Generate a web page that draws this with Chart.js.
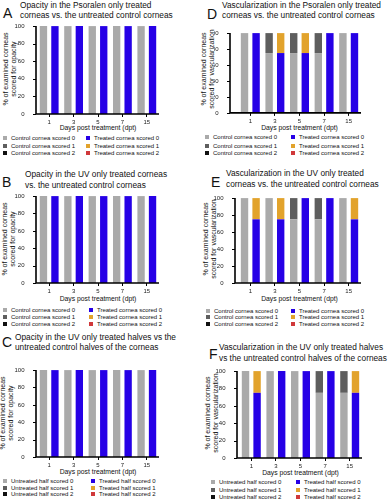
<!DOCTYPE html>
<html><head><meta charset="utf-8">
<script src="https://cdn.jsdelivr.net/npm/chart.js@4.4.1/dist/chart.umd.min.js"></script>
<style>
html,body{margin:0;padding:0;background:#fff;}
#fig{position:relative;width:388px;height:500px;overflow:hidden;font-family:"Liberation Sans",Arial,sans-serif;color:#111;}
.t{position:absolute;white-space:nowrap;}
canvas{position:absolute;}
.sq{position:absolute;width:4px;height:4px;}
</style></head><body><div id="fig"></div>
<script>
// ---- data ----
const days = ['1', '3', '5', '7', '15'];
const corneaLegend = ['Control cornea scored 0', 'Control cornea scored 1', 'Control cornea scored 2',
                      'Treated cornea scored 0', 'Treated cornea scored 1', 'Treated cornea scored 2'];
const halfLegend = ['Untreated half scored 0', 'Untreated half scored 1', 'Untreated half scored 2',
                    'Treated half scored 0', 'Treated half scored 1', 'Treated half scored 2'];

// A: opacity, psoralen only
const aCtrl0 = [100, 100, 100, 100, 100];
const aCtrl1 = [0, 0, 0, 0, 0];
const aCtrl2 = [0, 0, 0, 0, 0];
const aTrt0 = [100, 100, 100, 100, 100];
const aTrt1 = [0, 0, 0, 0, 0];
const aTrt2 = [0, 0, 0, 0, 0];
// B: opacity, UV only
const bCtrl0 = [100, 100, 100, 100, 100];
const bCtrl1 = [0, 0, 0, 0, 0];
const bCtrl2 = [0, 0, 0, 0, 0];
const bTrt0 = [100, 100, 100, 100, 100];
const bTrt1 = [0, 0, 0, 0, 0];
const bTrt2 = [0, 0, 0, 0, 0];
// C: opacity, UV only halves
const cCtrl0 = [100, 100, 100, 100, 100];
const cCtrl1 = [0, 0, 0, 0, 0];
const cCtrl2 = [0, 0, 0, 0, 0];
const cTrt0 = [100, 100, 100, 100, 100];
const cTrt1 = [0, 0, 0, 0, 0];
const cTrt2 = [0, 0, 0, 0, 0];
// D: vascularization, psoralen only
const dCtrl0 = [100, 75, 75, 75, 100];
const dCtrl1 = [0, 25, 25, 25, 0];
const dCtrl2 = [0, 0, 0, 0, 0];
const dTrt0 = [100, 75, 75, 100, 100];
const dTrt1 = [0, 25, 25, 0, 0];
const dTrt2 = [0, 0, 0, 0, 0];
// E: vascularization, UV only
const eCtrl0 = [100, 100, 75, 75, 100];
const eCtrl1 = [0, 0, 25, 25, 0];
const eCtrl2 = [0, 0, 0, 0, 0];
const eTrt0 = [75, 75, 100, 100, 75];
const eTrt1 = [25, 25, 0, 0, 25];
const eTrt2 = [0, 0, 0, 0, 0];
// F: vascularization, UV only halves
const fCtrl0 = [100, 100, 100, 75, 75];
const fCtrl1 = [0, 0, 0, 25, 25];
const fCtrl2 = [0, 0, 0, 0, 0];
const fTrt0 = [75, 100, 100, 100, 75];
const fTrt1 = [25, 0, 0, 0, 25];
const fTrt2 = [0, 0, 0, 0, 0];

// ---- style ----
const FONT = '"Liberation Sans", Arial, sans-serif';
const colors = ['#aaaaaa', '#5e5e5e', '#111111', '#2600e6', '#e2a32c', '#d0383a'];
const xTitle = 'Days post treatment (dpt)';

const panels = [
  {letter: 'A', title: ['Opacity in the Psoralen only treated', 'corneas vs. the untreated control corneas'],
   yTitle: ['% of examined corneas', 'scored for opacity'], legend: corneaLegend,
   series: [aCtrl0, aCtrl1, aCtrl2, aTrt0, aTrt1, aTrt2],
   box: {left: 37, right: 159, top: 24, bottom: 114, gap: 1}, lx: 3, ly: 13, tx: 20, ty: [5, 15],
   ytx: 9.5, xty: 128, legRows: [138, 146, 153], c1: 3, c2: 86},
  {letter: 'D', title: ['Vascularization in the Psoralen only treated', 'corneas vs. the untreated control corneas'],
   yTitle: ['% of examined corneas', 'scored for vascularization'], legend: corneaLegend,
   series: [dCtrl0, dCtrl1, dCtrl2, dTrt0, dTrt1, dTrt2],
   box: {left: 238, right: 361, top: 24, bottom: 114, gap: 8}, lx: 207, ly: 14, tx: 222, ty: [5, 15],
   ytx: 207.5, xty: 128, legRows: [137, 146, 153], c1: 205, c2: 291},
  {letter: 'B', title: ['Opacity in the UV only treated corneas', 'vs. the untreated control corneas'],
   yTitle: ['% of examined corneas', 'scored for opacity'], legend: corneaLegend,
   series: [bCtrl0, bCtrl1, bCtrl2, bTrt0, bTrt1, bTrt2],
   box: {left: 37, right: 159, top: 194, bottom: 283, gap: 1}, lx: 2, ly: 182, tx: 25, ty: [174, 185],
   ytx: 9, xty: 299, legRows: [310, 317, 324], c1: 3, c2: 89},
  {letter: 'E', title: ['Vascularization in the UV only treated', 'corneas vs. the untreated control corneas'],
   yTitle: ['% of examined corneas', 'scored for vascularization'], legend: corneaLegend,
   series: [eCtrl0, eCtrl1, eCtrl2, eTrt0, eTrt1, eTrt2],
   box: {left: 238, right: 361, top: 194, bottom: 283, gap: 3}, lx: 211, ly: 182, tx: 226, ty: [173, 184],
   ytx: 209.5, xty: 299, legRows: [311, 317, 324], c1: 206, c2: 291},
  {letter: 'C', title: ['Opacity in the UV only treated halves vs the', 'untreated control halves of the corneas'],
   yTitle: ['% of examined corneas', 'scored for opacity'], legend: halfLegend,
   series: [cCtrl0, cCtrl1, cCtrl2, cTrt0, cTrt1, cTrt2],
   box: {left: 37, right: 159, top: 368, bottom: 457, gap: 1}, lx: 2, ly: 342, tx: 15, ty: [337, 347],
   ytx: 7, xty: 472, legRows: [481, 488, 494], c1: 3, c2: 91},
  {letter: 'F', title: ['Vascularization in the UV only treated halves', 'vs the untreated control halves of the corneas'],
   yTitle: ['% of examined corneas', 'scored for vascularization'], legend: halfLegend,
   series: [fCtrl0, fCtrl1, fCtrl2, fTrt0, fTrt1, fTrt2],
   box: {left: 239, right: 362, top: 368, bottom: 458, gap: 2}, lx: 209, ly: 354, tx: 219, ty: [347, 358],
   ytx: 212, xty: 473, legRows: [482, 490, 497], c1: 211, c2: 296}
];

const fig = document.getElementById('fig');

function addText(str, x, yc, size, align) {
  const d = document.createElement('div');
  d.className = 't';
  d.textContent = str;
  d.style.fontSize = size + 'px';
  d.style.lineHeight = size + 'px';
  d.style.top = (yc - size / 2) + 'px';
  d.style.left = x + 'px';
  if (align === 'center') d.style.transform = 'translateX(-50%)';
  fig.appendChild(d);
  return d;
}

const axisPlugin = {
  id: 'prismAxes',
  afterDraw(chart, args, opts) {
    const {ctx, chartArea: ca} = chart;
    const y = chart.scales.y;
    const x0 = ca.left - opts.gap;
    const yb = y.getPixelForValue(0);
    const yt = y.getPixelForValue(100);
    ctx.save();
    ctx.strokeStyle = '#000';
    ctx.lineWidth = 1.6;
    ctx.beginPath();
    ctx.moveTo(x0, yt);
    ctx.lineTo(x0, yb + 0.8);
    ctx.moveTo(x0 - 0.8, yb);
    ctx.lineTo(ca.right, yb);
    ctx.stroke();
    ctx.lineWidth = 1;
    ctx.beginPath();
    y.ticks.forEach(t => {
      const py = Math.round(y.getPixelForValue(t.value)) + 0.5;
      ctx.moveTo(x0 - 3, py);
      ctx.lineTo(x0, py);
    });
    ctx.stroke();
    ctx.restore();
  }
};

function makePanel(p) {
  addText(p.letter, p.lx, p.ly, 14);
  p.title.forEach((s, i) => addText(s, p.tx, p.ty[i], 8.3));
  const L = p.box;
  const yt = document.createElement('div');
  yt.className = 't';
  yt.innerHTML = p.yTitle[0] + '<br>' + p.yTitle[1];
  Object.assign(yt.style, {fontSize: '7px', lineHeight: '8px', textAlign: 'center',
    left: p.ytx + 'px', top: ((L.top + L.bottom) / 2) + 'px',
    transform: 'translate(-50%,-50%) rotate(-90deg)'});
  fig.appendChild(yt);
  addText(xTitle, (L.left + L.right) / 2, p.xty, 6.8, 'center');
  p.legend.forEach((s, i) => {
    const col = i < 3 ? p.c1 : p.c2;
    const yc = p.legRows[i % 3];
    const sq = document.createElement('div');
    sq.className = 'sq';
    sq.style.left = col + 'px';
    sq.style.top = (yc - 2) + 'px';
    sq.style.background = colors[i];
    fig.appendChild(sq);
    addText(s, col + 8, yc, 6);
  });
  const padTop = 6, padRight = 8, wy = 24, hx = 14;
  const cw = wy + (L.right - L.left) + padRight;
  const ch = padTop + (L.bottom - L.top) + hx;
  const cv = document.createElement('canvas');
  cv.width = cw; cv.height = ch;
  Object.assign(cv.style, {left: (L.left - wy) + 'px', top: (L.top - padTop) + 'px', width: cw + 'px', height: ch + 'px'});
  fig.appendChild(cv);
  new Chart(cv, {
    type: 'bar',
    data: {
      labels: days,
      datasets: p.series.map((d, i) => ({
        label: p.legend[i], data: d, backgroundColor: colors[i], stack: i < 3 ? 'ctrl' : 'trt',
        borderWidth: 0, categoryPercentage: 0.94, barPercentage: 0.64
      }))
    },
    options: {
      responsive: false, animation: false, devicePixelRatio: 1,
      datasets: {bar: {categoryPercentage: 0.94, barPercentage: 0.64}},
      layout: {padding: {top: padTop, right: padRight, left: 0, bottom: 0}},
      plugins: {legend: {display: false}, tooltip: {enabled: false}, title: {display: false},
                prismAxes: {gap: L.gap}},
      scales: {
        x: {
          stacked: true, offset: true,
          grid: {display: true, drawOnChartArea: false, offset: false, tickLength: 3, color: '#000', lineWidth: 1},
          border: {display: false},
          ticks: {font: {size: 6, family: FONT}, color: '#222', padding: 2, maxRotation: 0, autoSkip: false},
          afterFit: s => { s.height = hx; }
        },
        y: {
          stacked: true, min: 0, max: 100,
          grid: {display: false}, border: {display: false},
          ticks: {stepSize: 20, font: {size: 6, family: FONT}, color: '#222', padding: L.gap + 3.5},
          afterFit: s => { s.width = wy; }
        }
      }
    },
    plugins: [axisPlugin]
  });
}

panels.forEach(makePanel);
</script>
</body></html>
